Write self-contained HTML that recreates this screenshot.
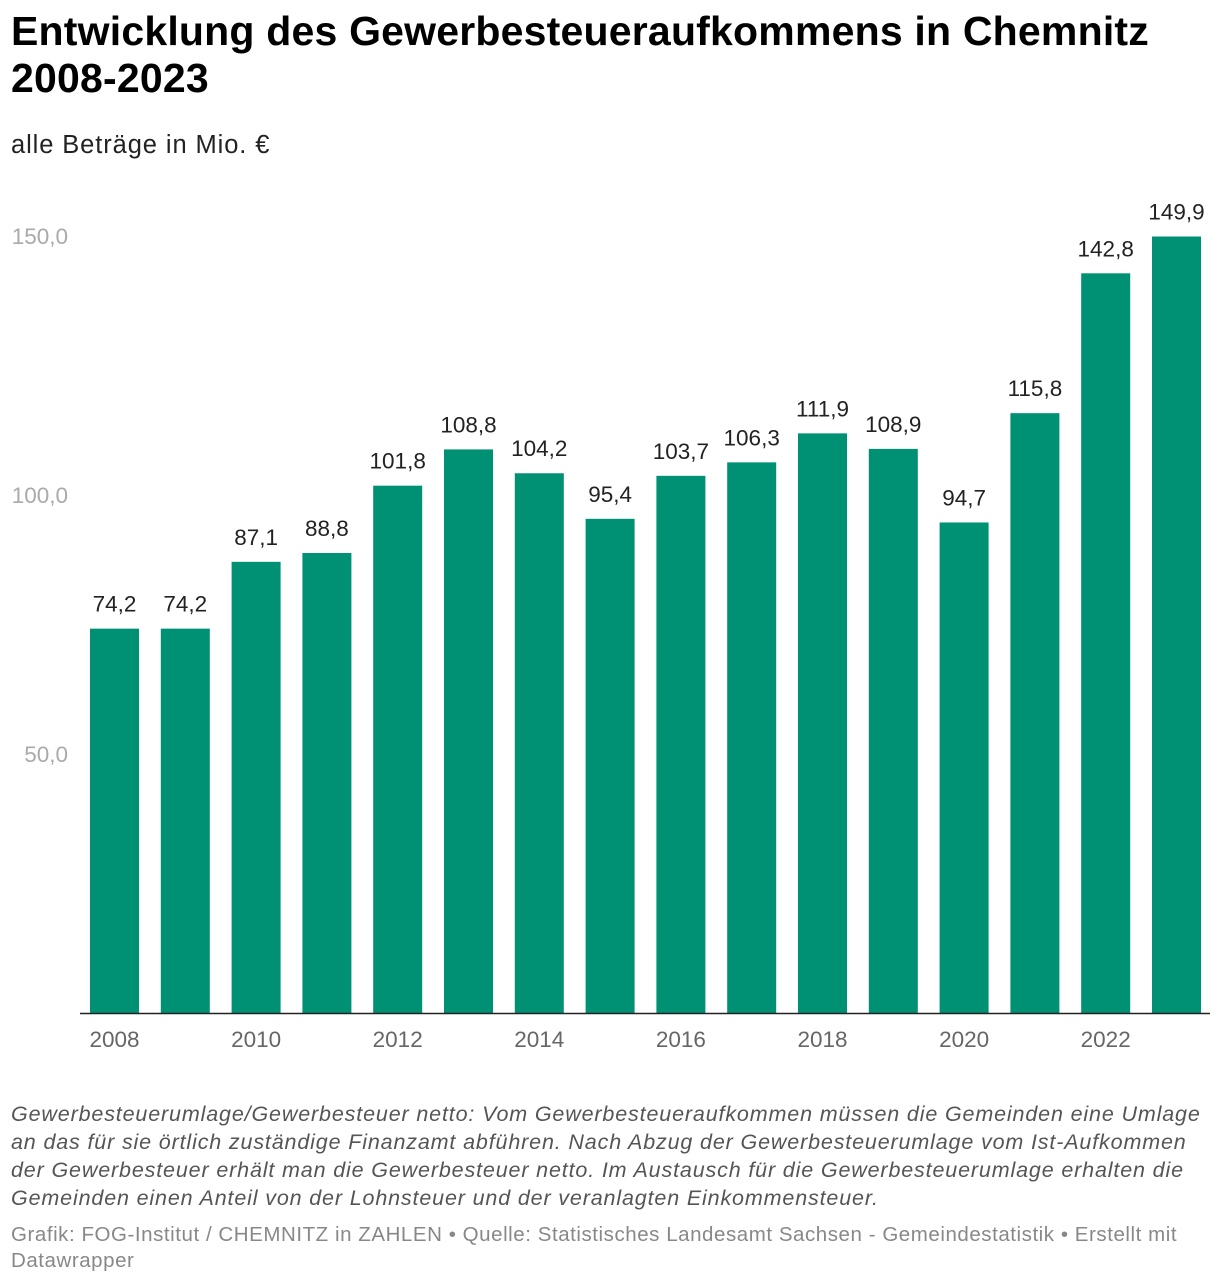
<!DOCTYPE html>
<html><head><meta charset="utf-8"><style>
body{margin:0;background:#fff;font-family:"Liberation Sans",sans-serif;width:1220px;height:1284px;overflow:hidden;position:relative}
h1{position:absolute;left:11px;top:8px;margin:0;font-size:41px;line-height:47px;font-weight:bold;color:#000;letter-spacing:0.2px;white-space:nowrap}
.sub{position:absolute;left:11px;top:131px;font-size:25.5px;color:#222;letter-spacing:0.9px}
.note{position:absolute;left:11px;top:1100px;width:1215px;font-size:21.5px;line-height:28px;color:#555;font-style:italic;white-space:nowrap;letter-spacing:0.85px}
.src{position:absolute;left:11px;top:1222px;width:1215px;font-size:20.5px;line-height:26px;color:#888;white-space:nowrap;letter-spacing:0.55px}
svg{position:absolute;left:0;top:0}
</style></head><body>
<h1>Entwicklung des Gewerbesteueraufkommens in Chemnitz<br>2008-2023</h1>
<div class="sub">alle Beträge in Mio. €</div>
<svg id="chart" width="1220" height="1090"></svg>
<div class="note">Gewerbesteuerumlage/Gewerbesteuer netto: Vom Gewerbesteueraufkommen müssen die Gemeinden eine Umlage<br>an das für sie örtlich zuständige Finanzamt abführen. Nach Abzug der Gewerbesteuerumlage vom Ist-Aufkommen<br>der Gewerbesteuer erhält man die Gewerbesteuer netto. Im Austausch für die Gewerbesteuerumlage erhalten die<br>Gemeinden einen Anteil von der Lohnsteuer und der veranlagten Einkommensteuer.</div>
<div class="src">Grafik: FOG-Institut / CHEMNITZ in ZAHLEN • Quelle: Statistisches Landesamt Sachsen - Gemeindestatistik • Erstellt mit<br>Datawrapper</div>
<script>
const years=[2008,2009,2010,2011,2012,2013,2014,2015,2016,2017,2018,2019,2020,2021,2022,2023];
const values=[74.2,74.2,87.1,88.8,101.8,108.8,104.2,95.4,103.7,106.3,111.9,108.9,94.7,115.8,142.8,149.9];
const yTicks=[50,100,150];
const ns="http://www.w3.org/2000/svg";
const svg=document.getElementById('chart');
const base=1013, top150=236;
const y=v=>base-(base-top150)*v/150;
const x0=90, step=70.8, bw=49;
const x=i=>x0+i*step;
function mk(t,a){const e=document.createElementNS(ns,t);for(const k in a)e.setAttribute(k,a[k]);svg.appendChild(e);return e;}
const fmt=v=>v.toFixed(1).replace('.',',');
yTicks.forEach(t=>{
  const e=mk('text',{x:68,y:y(t)+8,'text-anchor':'end','font-size':22.5,fill:'#aaa'});
  e.textContent=fmt(t);
  
  
});
values.forEach((v,i)=>{
  const r=mk('rect',{x:x(i),y:y(v),width:bw,height:base-y(v),fill:'#009175'});
  
  
  const l=mk('text',{x:x(i)+bw/2,y:y(v)-17,'text-anchor':'middle','font-size':22.5,fill:'#222'});
  l.textContent=fmt(v);
  
  
  if(i%2===0){
    const t=mk('text',{x:x(i)+bw/2,y:1047,'text-anchor':'middle','font-size':22.5,fill:'#666'});
    t.textContent=years[i];
    
    
  }
});
const ax=mk('line',{x1:80,x2:1210,y1:base+0.5,y2:base+0.5,stroke:'#222','stroke-width':1.5});


</script>
</body></html>
